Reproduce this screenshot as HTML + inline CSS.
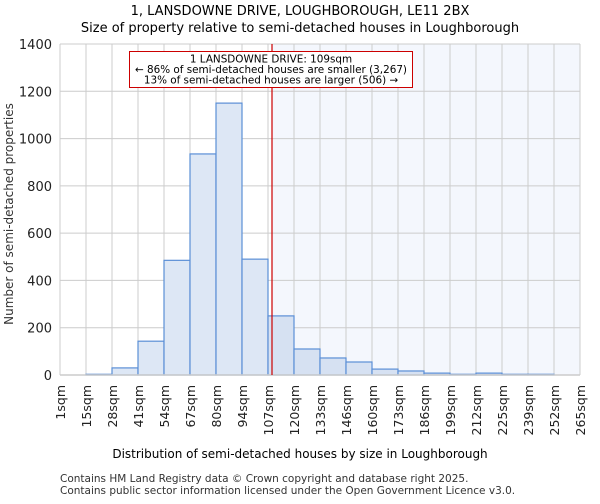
<!DOCTYPE html>
<html><head><meta charset="utf-8"><style>
body{margin:0;background:#fff;font-family:"DejaVu Sans","Liberation Sans",sans-serif}
</style></head><body>
<svg id="c" width="600" height="500" xmlns="http://www.w3.org/2000/svg" font-family="DejaVu Sans, Liberation Sans, sans-serif">
<text x="300" y="15" text-anchor="middle" font-size="13">1, LANSDOWNE DRIVE, LOUGHBOROUGH, LE11 2BX</text>
<text x="300" y="32" text-anchor="middle" font-size="13">Size of property relative to semi-detached houses in Loughborough</text>
<g id="g"></g>
<text x="300" y="458" text-anchor="middle" font-size="12">Distribution of semi-detached houses by size in Loughborough</text>
<text transform="translate(13,214) rotate(-90)" text-anchor="middle" font-size="12" fill="#333">Number of semi-detached properties</text>
<text x="60" y="482" font-size="10.5" fill="#333">Contains HM Land Registry data © Crown copyright and database right 2025.</text>
<text x="60" y="494" font-size="10.5" fill="#333">Contains public sector information licensed under the Open Government Licence v3.0.</text>
</svg>
<script>
const categories=["1sqm","15sqm","28sqm","41sqm","54sqm","67sqm","80sqm","94sqm","107sqm","120sqm","133sqm","146sqm","160sqm","173sqm","186sqm","199sqm","212sqm","225sqm","239sqm","252sqm","265sqm"];
const counts=[0,3,30,143,485,935,1150,490,250,110,72,55,25,17,8,3,8,3,3,0];
const yTicks=[0,200,400,600,800,1000,1200,1400];
const markerBin=8+2/13;
const NS="http://www.w3.org/2000/svg";
const L=60,R=580,T=44,B=375,yMax=1400;
const g=document.getElementById('g');
const bw=(R-L)/counts.length;
const xs=i=>L+i*bw;
const ys=v=>B-(v/yMax)*(B-T);
function el(t,a,p){const e=document.createElementNS(NS,t);for(const k in a)e.setAttribute(k,a[k]);(p||g).appendChild(e);return e;}
const mx=xs(markerBin);
const sh=el('rect',{x:mx,y:T,width:R-mx,height:B-T,fill:'#f4f7fd'});


yTicks.forEach(v=>{
 const l=el('line',{x1:L,x2:R,y1:ys(v),y2:ys(v),stroke:'#ccc','stroke-width':1});
 
 
 const t=el('text',{x:L-8,y:ys(v)+5,'text-anchor':'end','font-size':13,fill:'#222'});
 t.textContent=v;
 
 
});
categories.forEach((c,i)=>{
 const l=el('line',{x1:xs(i),x2:xs(i),y1:T,y2:B,stroke:'#ccc','stroke-width':1});
 
 
 const t=el('text',{transform:`translate(${xs(i)+5},385) rotate(-90)`,'text-anchor':'end','font-size':12.5,fill:'#222'});
 t.textContent=c;
 
 
});
counts.forEach((v,i)=>{
 if(v<=0)return;
 const r=el('rect',{x:xs(i),y:ys(v),width:bw,height:B-ys(v),fill:i>=8?'#d6e1f2':'#dde7f5',stroke:'#5b8fd6','stroke-width':1.2});
 
 
});
const ax=el('line',{x1:L,x2:R,y1:B,y2:B,stroke:'#ccc','stroke-width':1.5});


const ml=el('line',{x1:mx,x2:mx,y1:T,y2:B,stroke:'#cc0000','stroke-width':1.2});


const box=el('rect',{x:129.5,y:51.5,width:283,height:36,fill:'#fff',stroke:'#cc0000','stroke-width':1});


["1 LANSDOWNE DRIVE: 109sqm","← 86% of semi-detached houses are smaller (3,267)","13% of semi-detached houses are larger (506) →"].forEach((s,i)=>{
 const t=el('text',{x:271,y:62.5+i*10.5,'text-anchor':'middle','font-size':10.4});
 t.textContent=s;
 
 
});
</script>
</body></html>
